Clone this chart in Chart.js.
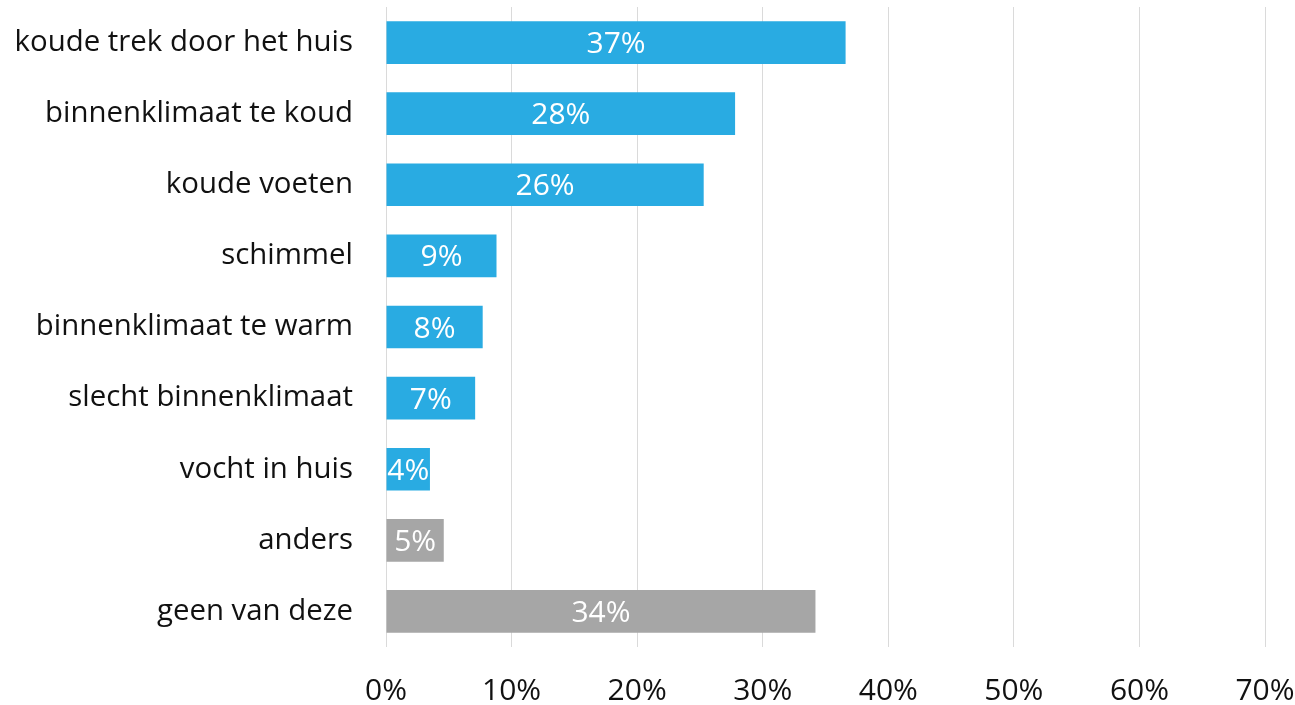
<!DOCTYPE html>
<html>
<head>
<meta charset="utf-8">
<script src="https://cdn.jsdelivr.net/npm/chart.js@4"></script>
<style>
  html,body{margin:0;padding:0;background:#fff;overflow:hidden;}
  canvas{display:block;}
</style>
</head>
<body>
<canvas id="ch" width="1295" height="705"></canvas>
<script>
// categories + values (percent)
const categories = ['koude trek door het huis','binnenklimaat te koud','koude voeten','schimmel',
  'binnenklimaat te warm','slecht binnenklimaat','vocht in huis','anders','geen van deze'];
const values = [36.6, 27.8, 25.3, 8.8, 7.7, 7.1, 3.5, 4.6, 34.2];
const shownPct = [37, 28, 26, 9, 8, 7, 4, 5, 34];
const xTicks = [0,10,20,30,40,50,60,70];

const BLUE='#29ABE2', GREY='#A6A6A6';
const barColors = categories.map((c,i)=> i>=7 ? GREY : BLUE);

// white % label in the middle of each bar
const barLabels = {
  id:'barLabels',
  afterDatasetsDraw(chart){
    const {ctx} = chart;
    const meta = chart.getDatasetMeta(0);
    ctx.save();
    ctx.fillStyle='#fff';
    ctx.font='30px "Open Sans"';
    ctx.textAlign='center';
    ctx.textBaseline='middle';
    meta.data.forEach((bar,i)=>{
      ctx.fillText(shownPct[i]+'%', (bar.base+bar.x)/2, bar.y+2);
    });
    ctx.restore();
  }
};

new Chart(document.getElementById('ch'), {
  type:'bar',
  data:{
    labels:categories,
    datasets:[{
      data:values,
      backgroundColor:barColors,
      borderWidth:0,
      barPercentage:0.6,
      categoryPercentage:1
    }]
  },
  options:{
    indexAxis:'y',
    responsive:false,
    animation:false,
    layout:{padding:{top:7,right:0,bottom:0,left:0}},
    plugins:{legend:{display:false},tooltip:{enabled:false}},
    scales:{
      x:{
        min:0,max:70,
        afterBuildTicks:s=>{ s.ticks = xTicks.map(v=>({value:v})); },
        afterFit:s=>{ s.height=58; s.paddingLeft=0; s.paddingRight=30; },
        grid:{color:'#DADADA',lineWidth:1,drawTicks:false},
        border:{display:false},
        ticks:{color:'#111',padding:26,font:{family:'"Open Sans"',size:30},
          callback:v=>v+'%', maxRotation:0}
      },
      y:{
        grid:{display:false},
        border:{display:false},
        afterFit:s=>{ s.width=386; s.paddingTop=0; s.paddingBottom=0; },
        ticks:{color:'#111',padding:25,font:{family:'"Open Sans"',size:29.4}}
      }
    }
  },
  plugins:[barLabels]
});
</script>
</body>
</html>
